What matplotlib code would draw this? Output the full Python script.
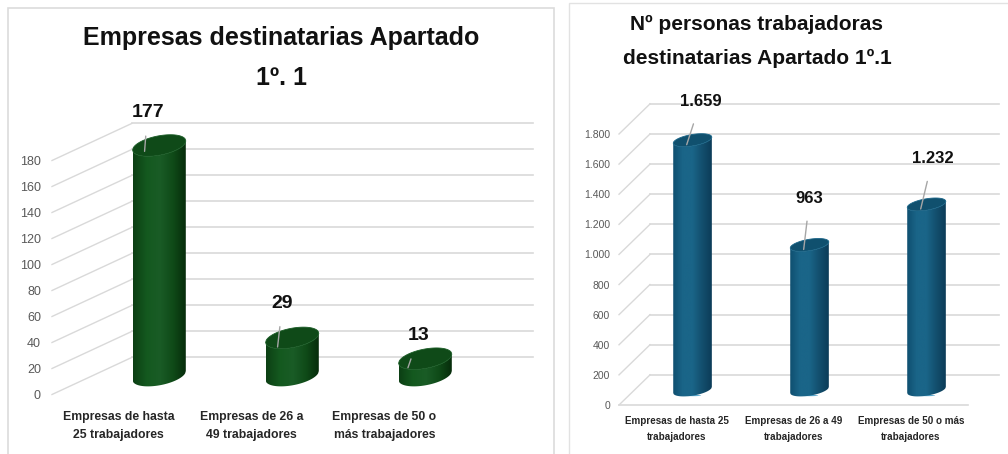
import matplotlib
matplotlib.use('Agg')
import matplotlib.pyplot as plt
from matplotlib.patches import Polygon, Rectangle, Ellipse
from matplotlib.colors import LinearSegmentedColormap
import numpy as np

W, H = 1008, 454

# Datos
cats_emp = ['Empresas de hasta\n25 trabajadores', 'Empresas de 26 a\n49 trabajadores', 'Empresas de 50 o\nmás trabajadores']
vals_emp = [177, 29, 13]
labels_emp = ['177', '29', '13']
ticks_emp = [0, 20, 40, 60, 80, 100, 120, 140, 160, 180]

cats_per = ['Empresas de hasta 25\ntrabajadores', 'Empresas de 26 a 49\ntrabajadores', 'Empresas de 50 o más\ntrabajadores']
vals_per = [1659, 963, 1232]
labels_per = ['1.659', '963', '1.232']
ticks_per = [0, 200, 400, 600, 800, 1000, 1200, 1400, 1600, 1800]
ticklabels_per = ['0', '200', '400', '600', '800', '1.000', '1.200', '1.400', '1.600', '1.800']

plt.rcParams['font.family'] = ['Liberation Sans', 'DejaVu Sans']

fig = plt.figure(figsize=(W / 100, H / 100), dpi=100)
bg = fig.add_axes([0, 0, 1, 1], zorder=0)
bg.set_xlim(0, W)
bg.set_ylim(H, 0)
bg.axis('off')
# marcos de los dos paneles
bg.add_patch(Rectangle((8, 8), 546, 470, fc='white', ec='#dcdcdc', lw=1.2))
bg.add_patch(Rectangle((569, 3), 470, 470, fc='white', ec='#e2e2e2', lw=1))


def cylinder(ax, xc, base, top, a, b, skew, colors, topcolor, highlight=None):
    # cuerpo del cilindro con degradado horizontal
    t = np.linspace(-1, 1, 80)
    xs = xc + a * t
    low = base + skew * t - b * np.sqrt(1 - t ** 2)
    up = top + skew * t - b * np.sqrt(1 - t ** 2)
    pts = np.vstack([np.column_stack([xs, low]), np.column_stack([xs[::-1], up[::-1]])])
    cmap = LinearSegmentedColormap.from_list('cyl', colors)
    grad = np.linspace(0, 1, 128)[None, :]
    im = ax.imshow(grad, cmap=cmap, extent=[xc - a, xc + a, base - 3 * b, top + 3 * b], aspect='auto', zorder=3)
    clip = Polygon(pts, closed=True, transform=ax.transData, fc='none', ec='none', clip_on=False)
    ax.add_patch(clip)
    im.set_clip_path(clip)
    # tapa
    cap = np.column_stack([np.r_[xs, xs[::-1]], np.r_[top + skew * t - b * np.sqrt(1 - t ** 2), (top + skew * t + b * np.sqrt(1 - t ** 2))[::-1]]])
    ax.add_patch(Polygon(cap, closed=True, fc=topcolor, ec=colors[2], lw=0.6, zorder=4, clip_on=False))
    if highlight:
        ax.add_patch(Ellipse((xc, base - b * 0.98), a * 0.9, b * 0.22, fc=highlight, ec='none', zorder=2, clip_on=False))


def draw_chart(rect, cats, vals, labels, ticks, ticklabels, xlim, vmax, ddx, ddv, depth,
               a, b, skew, colors, topcolor, label_px, tip, floor, txt, pad, ypad, cat_size, line_sp, tick_size, highlight=None):
    l, t, r, bt = rect
    # el eje sube un 20% por encima del ultimo tick: imshow no pinta fuera del eje
    ax = fig.add_axes([l / W, 1 - bt / H, (r - l) / W, 1.2 * (bt - t) / H], zorder=1)
    ax.patch.set_alpha(0)
    for s in ax.spines.values():
        s.set_visible(False)
    grid = '#d9d9d9'
    # paredes: fondo y lateral
    for v in ticks:
        ax.plot([xlim[0], xlim[0] + ddx], [v, v + ddv], color=grid, lw=1, clip_on=False, zorder=1)
        ax.plot([xlim[0] + ddx, xlim[1] + ddx], [v + ddv, v + ddv], color=grid, lw=1.2, clip_on=False, zorder=1)
    if floor:
        ax.plot([xlim[0], xlim[1]], [0, 0], color=grid, lw=1.2, clip_on=False, zorder=1)
    x = np.arange(len(vals))
    for i, v in enumerate(vals):
        xc = i + depth * ddx
        base = depth * ddv
        cylinder(ax, xc, base, base + v, a, b, skew, colors, topcolor, highlight)
        ax.annotate(labels[i], xy=(xc + tip[i][0], base + v + tip[i][1]), xytext=label_px[i], textcoords='offset pixels',
                    ha='center', va='center', fontsize=txt, fontweight='bold', color='#111111', zorder=6, annotation_clip=False,
                    arrowprops=dict(arrowstyle='-', color='#a6a6a6', lw=1, shrinkA=9, shrinkB=0))
    ax.set_xlim(*xlim)
    ax.set_ylim(0, vmax * 1.2)
    ax.set_xticks(x, cats, fontsize=cat_size, fontweight='bold', color='#262626', linespacing=line_sp)
    ax.set_yticks(ticks, ticklabels, fontsize=tick_size, color='#595959')
    ax.tick_params(axis='x', length=0, pad=ypad)
    ax.tick_params(axis='y', length=0, pad=pad)
    return ax


draw_chart((52, 160.5, 453, 394.5), cats_emp, vals_emp, labels_emp, ticks_emp, ticks_emp,
           (-0.5, 2.515), 180, 0.6, 28.5, 0.51, 0.2, 7.5, 3.5,
           ['#0c3f14', '#14591f', '#1a5c26', '#0f4a18', '#062a0a'], '#0f4a18',
           [(3, 39), (5, 44), (11, 32)], [(-0.11, -4.5), (-0.11, -7), (-0.13, -7)], False, 14, 8, 12, 8.8, 1.6, 9)

draw_chart((619, 134, 968, 405), cats_per, vals_per, labels_per, ticks_per, ticklabels_per,
           (-0.496, 2.487), 1800, 0.265, 200, 0.5, 0.165, 38, 20,
           ['#0f4f70', '#1a6588', '#1a6588', '#134f6e', '#0c3c58'], '#10506e',
           [(14, 43), (6, 51), (12, 50)], [(-0.05, -30), (-0.05, -30), (-0.05, -30)], True, 12, 6.5, 8, 7.1, 1.75, 7.5, highlight='#5aa9cf')

# Titulos
bg.text(281, 38, 'Empresas destinatarias Apartado', ha='center', va='center', fontsize=18, fontweight='bold', color='#111111')
bg.text(281, 78, '1º. 1', ha='center', va='center', fontsize=18, fontweight='bold', color='#111111')
bg.text(757, 24, 'Nº personas trabajadoras', ha='center', va='center', fontsize=15, fontweight='bold', color='#111111')
bg.text(757, 58, 'destinatarias Apartado 1º.1', ha='center', va='center', fontsize=15, fontweight='bold', color='#111111')

fig.savefig('out.png', dpi=100)
